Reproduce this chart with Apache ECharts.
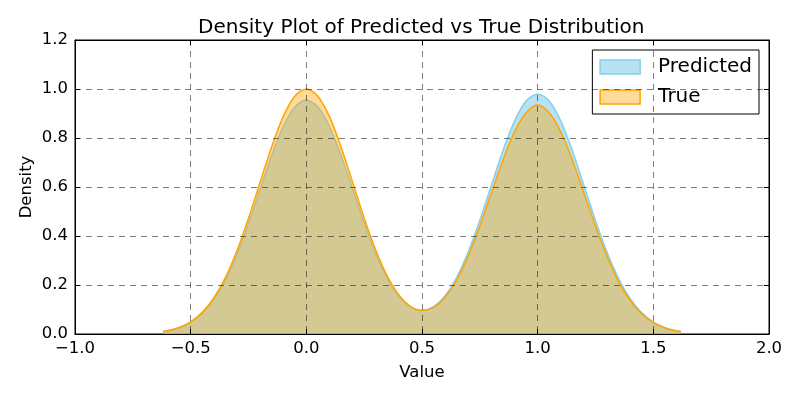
<!DOCTYPE html>
<html><head><meta charset="utf-8">
<script src="https://cdn.jsdelivr.net/npm/echarts@6/dist/echarts.min.js"></script>
<style>html,body{margin:0;padding:0;background:#fff}#c{width:800px;height:400px}</style>
</head><body><div id="c"></div>
<script>
const xValues = [-0.62,-0.60,-0.55,-0.50,-0.45,-0.40,-0.35,-0.30,-0.25,-0.20,-0.15,-0.10,-0.05,0.00,0.05,0.10,0.15,0.20,0.25,0.30,0.35,0.40,0.45,0.50,0.55,0.60,0.65,0.70,0.75,0.80,0.85,0.90,0.95,1.00,1.05,1.10,1.15,1.20,1.25,1.30,1.35,1.40,1.45,1.50,1.55,1.60,1.62];
const predicted = [0.0095,0.0127,0.0254,0.0477,0.0842,0.1403,0.2198,0.3247,0.4514,0.5911,0.7291,0.8471,0.9268,0.955,0.9268,0.8471,0.7293,0.5916,0.4526,0.3274,0.2260,0.1534,0.1103,0.0966,0.1118,0.1567,0.2316,0.3359,0.4644,0.6071,0.7482,0.8693,0.9511,0.98,0.9511,0.8693,0.7482,0.6066,0.4632,0.3332,0.2256,0.1440,0.0864,0.0489,0.0261,0.0131,0.0098];
const trueVals = [0.010,0.0133,0.0266,0.0499,0.0882,0.1469,0.2302,0.340,0.4727,0.619,0.7635,0.887,0.9705,1.000,0.9705,0.887,0.7637,0.6194,0.4738,0.3426,0.2361,0.1593,0.1129,0.0963,0.1086,0.1500,0.2204,0.3190,0.4408,0.5761,0.7101,0.8249,0.9026,0.935,0.9026,0.8249,0.7101,0.5757,0.4396,0.3162,0.2141,0.1366,0.0820,0.0464,0.0247,0.0124,0.0093];
const seriesNames = ['Predicted','True'];
const titleText = 'Density Plot of Predicted vs True Distribution';

const FONT = 'DejaVu Sans';
const fmt = v => (v < 0 ? '\u2212' + Math.abs(v).toFixed(1) : v.toFixed(1));
const chart = echarts.init(document.getElementById('c'), null, {renderer: 'canvas'});
const grid = {left: 75, right: 31, top: 40, bottom: 66, show: true, borderColor: '#000', borderWidth: 1, backgroundColor: 'transparent'};
const split = {show: true, lineStyle: {color: 'rgba(0,0,0,0.5)', type: [6, 5], width: 1}};
const tick = {show: true, inside: true, length: 5, lineStyle: {color: '#000'}};
chart.setOption({
  animation: false,
  backgroundColor: '#fff',
  title: {text: titleText, left: 193, top: 13, textStyle: {fontFamily: FONT, fontSize: 20, fontWeight: 'normal', color: '#000'}},
  legend: {
    right: 41, top: 50, orient: 'vertical', itemWidth: 40, itemHeight: 14, itemGap: 10,
    padding: [7, 7, 7, 7], borderColor: '#000', borderWidth: 1, backgroundColor: '#fff', borderRadius: 0,
    textStyle: {fontFamily: FONT, fontSize: 20, color: '#000', padding: [0, 0, 0, 13]},
    data: [
      {name: seriesNames[0], icon: 'rect', itemStyle: {color: 'rgba(135,206,235,0.6)', borderColor: '#87CEEB', borderWidth: 1.5}},
      {name: seriesNames[1], icon: 'rect', itemStyle: {color: 'rgba(255,165,0,0.4)', borderColor: '#FFA500', borderWidth: 1.5}}
    ]
  },
  grid: grid,
  xAxis: [
    {type: 'value', min: -1, max: 2, interval: 0.5, z: 5, name: 'Value', nameLocation: 'middle', nameGap: 30, nameMoveOverlap: false,
     nameTextStyle: {fontFamily: FONT, fontSize: 16.5, color: '#000'},
     axisLine: {show: true, onZero: false, lineStyle: {color: '#000'}}, axisTick: tick, splitLine: split,
     axisLabel: {formatter: fmt, fontFamily: FONT, fontSize: 16.5, color: '#000', margin: 6}},
    {type: 'value', position: 'top', min: -1, max: 2, interval: 0.5, z: 5,
     axisLine: {show: true, onZero: false, lineStyle: {color: '#000'}}, axisTick: tick, splitLine: {show: false}, axisLabel: {show: false}}
  ],
  yAxis: [
    {type: 'value', min: 0, max: 1.2, interval: 0.2, z: 5, name: 'Density', nameLocation: 'middle', nameGap: 40, nameMoveOverlap: false,
     nameTextStyle: {fontFamily: FONT, fontSize: 16.5, color: '#000'},
     axisLine: {show: true, onZero: false, lineStyle: {color: '#000'}}, axisTick: tick, splitLine: split,
     axisLabel: {formatter: fmt, fontFamily: FONT, fontSize: 16.5, color: '#000', margin: 7}},
    {type: 'value', position: 'right', min: 0, max: 1.2, interval: 0.2, z: 5,
     axisLine: {show: true, onZero: false, lineStyle: {color: '#000'}}, axisTick: tick, splitLine: {show: false}, axisLabel: {show: false}}
  ],
  series: [
    {name: seriesNames[0], type: 'line', smooth: 0.3, showSymbol: false, symbol: 'none',
     data: xValues.map((x, i) => [x, predicted[i]]),
     lineStyle: {color: '#87CEEB', width: 1.5}, itemStyle: {color: '#87CEEB'},
     areaStyle: {color: 'rgba(135,206,235,0.6)', opacity: 1, origin: 'start'}, z: 2},
    {name: seriesNames[1], type: 'line', smooth: 0.3, showSymbol: false, symbol: 'none',
     data: xValues.map((x, i) => [x, trueVals[i]]),
     lineStyle: {color: '#FFA500', width: 1.5}, itemStyle: {color: '#FFA500'},
     areaStyle: {color: 'rgba(255,165,0,0.4)', opacity: 1, origin: 'start'}, z: 3}
  ]
});
</script></body></html>
